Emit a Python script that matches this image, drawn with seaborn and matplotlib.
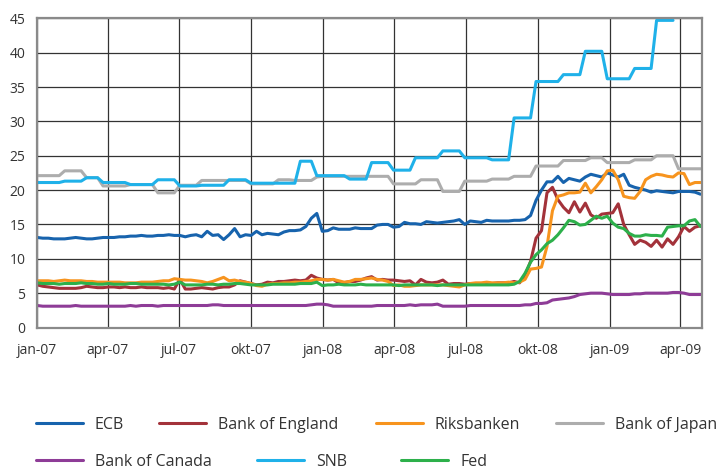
import numpy as np
import pandas as pd
import matplotlib
matplotlib.use("Agg")
import matplotlib.pyplot as plt
from matplotlib.lines import Line2D
import seaborn as sns

nan = np.nan

# weekly observations, Mondays from 2007-01-01 (122 weeks)
dates = pd.date_range("2007-01-01", periods=122, freq="7D")

ecb = [13.1, 13.0, 13.0, 12.9, 12.9, 12.9, 13.0, 13.1, 13.0, 12.9,
       12.9, 13.0, 13.1, 13.1, 13.1, 13.2, 13.2, 13.3, 13.3, 13.4,
       13.3, 13.3, 13.4, 13.4, 13.5, 13.4, 13.4, 13.2, 13.4, 13.5,
       13.2, 14.0, 13.4, 13.5, 12.8, 13.5, 14.4, 13.2, 13.5, 13.4,
       14.0, 13.5, 13.7, 13.6, 13.5, 13.9, 14.1, 14.1, 14.2, 14.7,
       15.9, 16.6, 14.0, 14.1, 14.5, 14.3, 14.3, 14.3, 14.5, 14.4,
       14.4, 14.4, 14.9, 15.0, 15.0, 14.6, 14.7, 15.3, 15.1, 15.1,
       15.0, 15.4, 15.3, 15.2, 15.3, 15.4, 15.5, 15.7, 15.0, 15.5,
       15.4, 15.3, 15.6, 15.5, 15.5, 15.5, 15.5, 15.6, 15.6, 15.7,
       16.3, 18.5, 20.0, 21.2, 21.2, 22.0, 21.1, 21.7, 21.5, 21.3,
       21.9, 22.3, 22.1, 21.9, 22.5, 22.2, 21.9, 22.3, 20.7, 20.4,
       20.2, 20.0, 19.7, 19.9, 19.8, 19.7, 19.6, 19.8, 19.8, 19.8,
       19.7, 19.4]

boe = [6.2, 6.0, 5.9, 5.8, 5.7, 5.7, 5.7, 5.7, 5.8, 6.0,
       5.9, 5.8, 5.8, 5.9, 5.9, 5.8, 5.9, 5.8, 5.8, 5.9,
       5.8, 5.8, 5.8, 5.7, 5.8, 5.6, 7.0, 5.6, 5.6, 5.7,
       5.8, 5.7, 5.6, 5.8, 5.9, 5.9, 6.2, 6.8, 6.6, 6.4,
       6.2, 6.3, 6.6, 6.5, 6.7, 6.7, 6.8, 6.9, 6.8, 6.9,
       7.6, 7.2, 7.0, 6.9, 7.0, 6.5, 6.5, 6.7, 6.7, 6.9,
       7.2, 7.4, 6.9, 7.0, 6.9, 6.9, 6.8, 6.7, 6.8, 6.2,
       7.0, 6.6, 6.5, 6.6, 6.9, 6.3, 6.4, 6.4, 6.3, 6.4,
       6.4, 6.4, 6.4, 6.4, 6.5, 6.5, 6.5, 6.7, 6.5, 7.6,
       9.6, 13.0, 14.1, 19.6, 20.4, 18.6, 17.5, 16.7, 18.3, 16.8,
       18.1, 16.4, 15.9, 16.5, 16.6, 16.7, 18.0, 15.0, 13.5, 12.1,
       12.7, 12.4, 11.8, 12.7, 11.7, 12.9, 12.1, 13.2, 14.7, 14.0,
       14.6, 14.8]

riksbanken = [6.8, 6.8, 6.8, 6.7, 6.8, 6.9, 6.8, 6.8, 6.8, 6.7,
              6.7, 6.6, 6.6, 6.6, 6.6, 6.6, 6.5, 6.5, 6.5, 6.6,
              6.6, 6.6, 6.7, 6.8, 6.8, 7.1, 7.0, 6.9, 6.9, 6.8,
              6.7, 6.5, 6.7, 7.0, 7.3, 6.8, 6.9, 6.7, 6.6, 6.4,
              6.1, 6.0, 6.3, 6.4, 6.4, 6.5, 6.5, 6.6, 6.6, 6.7,
              6.8, 7.0, 7.0, 6.9, 7.0, 6.8, 6.6, 6.7, 7.0, 7.0,
              7.1, 7.2, 7.0, 6.9, 6.7, 6.1, 6.2, 6.0, 6.0, 6.1,
              6.2, 6.2, 6.2, 6.2, 6.2, 6.1, 6.0, 5.9, 6.2, 6.4,
              6.5, 6.5, 6.6, 6.5, 6.5, 6.5, 6.6, 6.5, 6.6, 7.0,
              8.5, 8.6, 8.8, 11.8, 17.0, 19.1, 19.3, 19.6, 19.6, 19.7,
              21.0, 19.6, 20.5, 21.5, 22.8, 22.9, 21.5, 19.1, 18.9, 18.8,
              19.8, 21.5, 22.0, 22.3, 22.2, 22.0, 21.9, 22.5, 22.4, 20.8,
              21.1, 21.1]

boj = [22.1, 22.1, 22.1, 22.1, 22.1, 22.8, 22.8, 22.8, 22.8, 21.8,
       21.8, 21.8, 20.6, 20.6, 20.6, 20.6, 20.6, 20.8, 20.8, 20.8,
       20.8, 20.8, 19.6, 19.6, 19.6, 19.6, 20.7, 20.7, 20.7, 20.7,
       21.4, 21.4, 21.4, 21.4, 21.4, 21.4, 21.4, 21.4, 21.4, 20.9,
       20.9, 20.9, 20.9, 20.9, 21.5, 21.5, 21.5, 21.4, 21.4, 21.4,
       21.4, 21.9, 22.0, 22.0, 22.0, 22.0, 22.0, 22.0, 22.0, 22.0,
       22.0, 22.0, 22.0, 22.0, 22.0, 20.9, 20.9, 20.9, 20.9, 20.9,
       21.5, 21.5, 21.5, 21.5, 19.8, 19.8, 19.8, 19.8, 21.3, 21.3,
       21.3, 21.3, 21.3, 21.6, 21.6, 21.6, 21.6, 22.0, 22.0, 22.0,
       22.0, 23.5, 23.5, 23.5, 23.5, 23.5, 24.3, 24.3, 24.3, 24.3,
       24.3, 24.7, 24.7, 24.7, 24.0, 24.0, 24.0, 24.0, 24.0, 24.4,
       24.4, 24.4, 24.4, 25.0, 25.0, 25.0, 25.0, 23.1, 23.1, 23.1,
       23.1, 23.1]

boc = [3.2, 3.1, 3.1, 3.1, 3.1, 3.1, 3.1, 3.2, 3.1, 3.1,
       3.1, 3.1, 3.1, 3.1, 3.1, 3.1, 3.1, 3.2, 3.1, 3.2,
       3.2, 3.2, 3.1, 3.2, 3.2, 3.2, 3.2, 3.2, 3.2, 3.2,
       3.2, 3.2, 3.3, 3.3, 3.2, 3.2, 3.2, 3.2, 3.2, 3.2,
       3.2, 3.2, 3.2, 3.2, 3.2, 3.2, 3.2, 3.2, 3.2, 3.2,
       3.3, 3.4, 3.4, 3.3, 3.1, 3.1, 3.1, 3.1, 3.1, 3.1,
       3.1, 3.1, 3.2, 3.2, 3.2, 3.2, 3.2, 3.2, 3.3, 3.2,
       3.3, 3.3, 3.3, 3.4, 3.1, 3.1, 3.1, 3.1, 3.1, 3.2,
       3.2, 3.2, 3.2, 3.2, 3.2, 3.2, 3.2, 3.2, 3.2, 3.3,
       3.3, 3.5, 3.5, 3.6, 4.0, 4.1, 4.2, 4.3, 4.5, 4.8,
       4.9, 5.0, 5.0, 5.0, 4.9, 4.8, 4.8, 4.8, 4.8, 4.9,
       4.9, 5.0, 5.0, 5.0, 5.0, 5.0, 5.1, 5.1, 5.0, 4.8,
       4.8, 4.8]

snb = [21.1, 21.1, 21.1, 21.1, 21.1, 21.3, 21.3, 21.3, 21.3, 21.8,
       21.8, 21.8, 21.1, 21.1, 21.1, 21.1, 21.1, 20.8, 20.8, 20.8,
       20.8, 20.8, 21.5, 21.5, 21.5, 21.5, 20.6, 20.6, 20.6, 20.6,
       20.7, 20.7, 20.7, 20.7, 20.7, 21.5, 21.5, 21.5, 21.5, 21.0,
       21.0, 21.0, 21.0, 21.0, 21.0, 21.0, 21.0, 21.0, 24.2, 24.2,
       24.2, 22.1, 22.1, 22.1, 22.1, 22.1, 22.1, 21.6, 21.6, 21.6,
       21.6, 24.0, 24.0, 24.0, 24.0, 22.9, 22.9, 22.9, 22.9, 24.7,
       24.7, 24.7, 24.7, 24.7, 25.7, 25.7, 25.7, 25.7, 24.7, 24.7,
       24.7, 24.7, 24.7, 24.4, 24.4, 24.4, 24.4, 30.5, 30.5, 30.5,
       30.5, 35.8, 35.8, 35.8, 35.8, 35.8, 36.8, 36.8, 36.8, 36.8,
       40.2, 40.2, 40.2, 40.2, 36.2, 36.2, 36.2, 36.2, 36.2, 37.7,
       37.7, 37.7, 37.7, 44.7, 44.7, 44.7, 44.7, nan, nan, nan,
       nan, nan]

fed = [6.5, 6.4, 6.4, 6.4, 6.3, 6.4, 6.4, 6.4, 6.5, 6.4,
       6.4, 6.3, 6.3, 6.4, 6.3, 6.3, 6.3, 6.4, 6.4, 6.3,
       6.3, 6.3, 6.3, 6.3, 6.2, 6.3, 6.6, 6.2, 6.2, 6.2,
       6.2, 6.3, 6.3, 6.2, 6.3, 6.3, 6.4, 6.4, 6.3, 6.2,
       6.2, 6.2, 6.2, 6.3, 6.3, 6.3, 6.3, 6.3, 6.4, 6.4,
       6.4, 6.6, 6.1, 6.2, 6.2, 6.3, 6.2, 6.2, 6.2, 6.3,
       6.2, 6.2, 6.2, 6.2, 6.2, 6.2, 6.1, 6.2, 6.2, 6.2,
       6.2, 6.2, 6.2, 6.1, 6.2, 6.2, 6.2, 6.2, 6.2, 6.2,
       6.2, 6.2, 6.2, 6.2, 6.2, 6.2, 6.2, 6.3, 6.7, 7.9,
       9.5, 10.6, 11.3, 12.2, 12.7, 13.5, 14.5, 15.6, 15.4, 14.9,
       15.0, 15.6, 16.2, 15.9, 16.2, 15.2, 14.6, 14.4, 13.7, 13.3,
       13.3, 13.5, 13.4, 13.4, 13.3, 14.6, 14.7, 14.8, 14.8, 15.5,
       15.7, 14.7]

banks = ["ECB", "Bank of England", "Riksbanken", "Bank of Japan",
         "Bank of Canada", "SNB", "Fed"]
series = [ecb, boe, riksbanken, boj, boc, snb, fed]
colors = ["#1763ad", "#a3323a", "#f7941e", "#adadad",
          "#8e3c97", "#1fb1e9", "#2db04b"]

tick_dates = ["2007-01-01", "2007-04-01", "2007-07-01", "2007-10-01",
              "2008-01-01", "2008-04-01", "2008-07-01", "2008-10-01",
              "2009-01-01", "2009-04-01"]
tick_labels = ["jan-07", "apr-07", "jul-07", "okt-07", "jan-08",
               "apr-08", "jul-08", "okt-08", "jan-09", "apr-09"]
y_ticks = [0, 5, 10, 15, 20, 25, 30, 35, 40, 45]

df = pd.concat([pd.DataFrame({"date": dates, "value": s, "bank": b})
                for b, s in zip(banks, series)], ignore_index=True)

sns.set_style("white")
plt.rcParams["font.family"] = ["Open Sans", "DejaVu Sans"]

W, H = 721, 470
fig = plt.figure(figsize=(W / 100, H / 100), dpi=100)
x0, x1, ytop, ybot = 37.3, 702.0, 18.3, 327.5
ax = fig.add_axes([x0 / W, 1 - ybot / H, (x1 - x0) / W, (ybot - ytop) / H])

sns.lineplot(data=df, x="date", y="value", hue="bank", hue_order=banks,
             palette=colors, linewidth=2.2, legend=False, ax=ax)

ax.set_xlim(pd.Timestamp("2007-01-01"), pd.Timestamp("2009-04-29"))
ax.set_ylim(0, 45)
ax.set_xticks(pd.to_datetime(tick_dates))
ax.set_xticklabels(tick_labels)
ax.set_yticks(y_ticks)
ax.set_yticklabels([str(v) for v in y_ticks])
ax.set_xlabel("")
ax.set_ylabel("")
ax.grid(True, color="#333333", linewidth=0.9)
ax.set_axisbelow(True)
for sp in ax.spines.values():
    sp.set_visible(True)
    sp.set_color("#8a8a8a")
    sp.set_linewidth(1.6)
ax.tick_params(axis="x", length=0, pad=11, labelsize=10, labelcolor="#333333")
ax.tick_params(axis="y", length=0, pad=8.5, labelsize=10, labelcolor="#333333")

# legend: one entry per small legend, laid out in two rows
fs = 11.5
em = fs * 100 / 72
pos = [(36, 425), (159, 425), (376, 425), (556, 425),
       (36, 462), (257, 462), (401, 462)]
for b, c, (px, py) in zip(banks, colors, pos):
    h = Line2D([], [], color=c, linewidth=2.2)
    fig.legend(handles=[h], labels=[b], loc="center left",
               bbox_to_anchor=(px / W, 1 - py / H), frameon=False,
               fontsize=fs, handlelength=47 / em, handletextpad=12 / em,
               borderpad=0, borderaxespad=0, labelcolor="#333333")

fig.savefig("out.png", dpi=100)
